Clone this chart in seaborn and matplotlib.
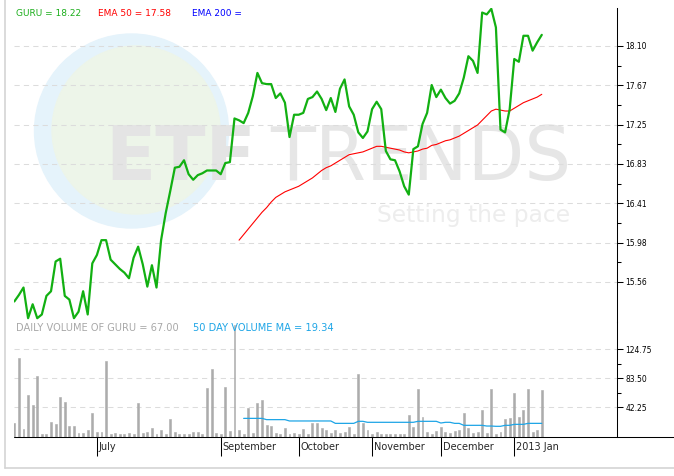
import numpy as np
import pandas as pd
import matplotlib
matplotlib.use('Agg')
import matplotlib.pyplot as plt
import matplotlib.transforms as mtransforms
from matplotlib.patches import Ellipse
from matplotlib.lines import Line2D
from matplotlib.ticker import FixedLocator
import seaborn as sns

# daily closes of GURU, one per trading session shown
guru_close = [15.35, 15.42, 15.50, 15.17, 15.32, 15.17, 15.21, 15.41, 15.46, 15.78,
              15.81, 15.41, 15.37, 15.17, 15.24, 15.46, 15.21, 15.76, 15.85, 16.01,
              16.01, 15.80, 15.75, 15.70, 15.66, 15.60, 15.82, 15.94, 15.75, 15.51,
              15.74, 15.50, 16.01, 16.30, 16.54, 16.79, 16.80, 16.87, 16.72, 16.66,
              16.71, 16.73, 16.76, 16.76, 16.76, 16.72, 16.84, 16.85, 17.32, 17.30,
              17.27, 17.38, 17.56, 17.81, 17.70, 17.69, 17.69, 17.54, 17.59, 17.49,
              17.12, 17.36, 17.36, 17.38, 17.53, 17.55, 17.61, 17.53, 17.41, 17.54,
              17.39, 17.64, 17.74, 17.45, 17.36, 17.17, 17.11, 17.18, 17.42, 17.50,
              17.42, 16.97, 16.88, 16.87, 16.75, 16.59, 16.50, 16.99, 17.02, 17.26,
              17.38, 17.68, 17.55, 17.63, 17.54, 17.48, 17.51, 17.59, 17.76, 17.99,
              17.94, 17.81, 18.46, 18.44, 18.50, 18.30, 17.20, 17.17, 17.42, 17.96,
              17.93, 18.21, 18.21, 18.05, 18.14, 18.22]

volume = [20, 112, 12, 60, 45, 87, 4, 4, 21, 18,
          57, 50, 16, 16, 6, 6, 10, 34, 7, 7,
          108, 4, 6, 4, 4, 6, 4, 48, 6, 7,
          13, 4, 10, 4, 26, 7, 4, 4, 4, 7,
          7, 4, 70, 97, 6, 4, 71, 8.5, 160, 10,
          4, 41, 6, 48, 53, 17, 16, 6, 4, 13,
          4, 6, 4, 11, 4, 20, 20, 13, 10, 6,
          10, 6, 7, 14, 4, 90, 20, 10, 4, 7,
          4, 4, 4, 4, 4, 4, 31, 14, 68, 28,
          7, 4, 8.5, 14, 7, 6, 8.5, 10, 34, 13,
          6, 7, 38, 6, 68, 4, 7, 26, 27, 63,
          28, 38, 68, 7, 10, 67]

ema50_start = 49
ema50 = [16.01, 16.07, 16.13, 16.19, 16.25, 16.31, 16.36, 16.42, 16.47, 16.50,
         16.53, 16.55, 16.57, 16.59, 16.62, 16.65, 16.68, 16.72, 16.76, 16.79,
         16.81, 16.84, 16.87, 16.90, 16.93, 16.94, 16.95, 16.96, 16.98, 17.00,
         17.02, 17.02, 17.01, 17.00, 16.99, 16.98, 16.96, 16.95, 16.96, 16.97,
         16.99, 17.00, 17.03, 17.04, 17.06, 17.08, 17.09, 17.11, 17.13, 17.16,
         17.19, 17.22, 17.25, 17.30, 17.35, 17.40, 17.42, 17.41, 17.40, 17.40,
         17.43, 17.46, 17.49, 17.51, 17.53, 17.55, 17.58]

volma_start = 50
vol_ma = [26.5] * 5 + [24.7] * 5 + [22.8] * 10 + [19.4] * 5 + [22.3] * 2 + \
         [20.9] * 11 + [22.3] * 5 + [19.9] + [20.9] * 2 + [19.4] * 2 + \
         [16.6] * 5 + [15.6] * 2 + [15.2] * 2 + [16.6] * 2 + [18.0] * 3 + [19.4] * 4

price_ticks = [15.56, 15.983, 16.407, 16.83, 17.253, 17.677, 18.10]
price_labels = ['15.56', '15.98', '16.41', '16.83', '17.25', '17.67', '18.10']
vol_ticks = [42.25, 83.50, 124.75]
vol_labels = ['42.25', '83.50', '124.75']
month_pos = [18, 45, 62, 78, 93, 109]
month_labels = ['July', 'September', 'October', 'November', 'December', '2013 Jan']

sns.set_style('white')
plt.rcParams['font.family'] = ['DejaVu Sans']

W, H = 674, 476
fig = plt.figure(figsize=(W / 100, H / 100), dpi=100)


def px_rect(x0, y0, x1, y1):
    return [x0 / W, 1 - y1 / H, (x1 - x0) / W, (y1 - y0) / H]


def fx(x):
    return x / W


def fy(y):
    return 1 - y / H


# watermark
fig.add_artist(Ellipse((fx(131.5), fy(131)), 194 / W, 194 / H, color='#e5f3fb', zorder=-6))
fig.add_artist(Ellipse((fx(136), fy(130)), 168 / W, 168 / H, color='#edf5e9', zorder=-5))
fig.text(fx(105.5), fy(180), 'ETF', fontsize=53, fontweight='bold', color='#e4e4e4',
         va='baseline', zorder=-4)
fig.text(fx(270), fy(180), 'TRENDS', fontsize=53, color='#e6e6e6',
         va='baseline', zorder=-4)
fig.text(fx(377), fy(222), 'Setting the pace', fontsize=16.8, color='#ededed',
         va='baseline', zorder=-4)

ax = fig.add_axes(px_rect(14, 8, 617, 322))
axv = fig.add_axes(px_rect(14, 322, 617, 437))

idx = np.arange(len(guru_close))
df = pd.DataFrame({'i': idx, 'close': guru_close, 'volume': volume})
ema_df = pd.DataFrame({'i': np.arange(ema50_start, ema50_start + len(ema50)), 'ema': ema50})
vma_df = pd.DataFrame({'i': np.arange(volma_start, volma_start + len(vol_ma)), 'vma': vol_ma})

sns.lineplot(data=ema_df, x='i', y='ema', ax=ax, color='#ff0000', linewidth=0.8, estimator=None)
sns.lineplot(data=df, x='i', y='close', ax=ax, color='#12b012', linewidth=1.6, estimator=None)

sns.barplot(data=df, x='i', y='volume', ax=axv, native_scale=True, color='#acacac',
            saturation=1, width=0.42, errorbar=None, linewidth=0.4, edgecolor='#acacac')
sns.lineplot(data=vma_df, x='i', y='vma', ax=axv, color='#1ea5e6', linewidth=0.9, estimator=None)

xlim = (-0.07, 131.4)
for a in (ax, axv):
    a.set_facecolor('none')
    a.set_xlim(*xlim)
    a.set_xlabel('')
    a.set_ylabel('')
    for s in ('top', 'left', 'bottom'):
        a.spines[s].set_visible(False)
    a.spines['right'].set_color('black')
    a.spines['right'].set_linewidth(0.75)
    a.yaxis.tick_right()
    a.tick_params(axis='y', which='both', direction='out', width=0.75, labelsize=5.5,
                  pad=1.5, colors='black')
    a.tick_params(axis='y', which='major', length=4.5)
    a.tick_params(axis='y', which='minor', length=3)
    a.grid(axis='y', which='major', color='#dcdcdc', linestyle=(0, (5, 4)), linewidth=0.75)
    a.grid(axis='x', visible=False)

ax.set_ylim(15.129, 18.509)
ax.set_yticks(price_ticks, price_labels)
ax.yaxis.set_minor_locator(FixedLocator([(a + b) / 2 for a, b in zip(price_ticks[:-1], price_ticks[1:])]))
ax.set_xticks([])

axv.set_ylim(0, 163.6)
axv.set_yticks(vol_ticks, vol_labels)
axv.yaxis.set_minor_locator(FixedLocator([(a + b) / 2 for a, b in zip(vol_ticks[:-1], vol_ticks[1:])]))
axv.set_xticks(month_pos, [''] * len(month_pos))
axv.tick_params(axis='x', direction='out', length=14, width=0.75, colors='black', bottom=True)
trans = mtransforms.blended_transform_factory(axv.transData, axv.transAxes)
for p, lab in zip(month_pos, month_labels):
    axv.text(p + 0.45, -0.087, lab, transform=trans, fontsize=7, va='center', ha='left')

# legends
fig.text(fx(16), fy(14), 'GURU = 18.22', color='#1cae1c', fontsize=6.5, va='center')
fig.text(fx(97.7), fy(14), 'EMA 50 = 17.58', color='#ff0000', fontsize=6.5, va='center')
fig.text(fx(191.7), fy(14), 'EMA 200 =', color='#0000ff', fontsize=6.5, va='center')
fig.text(fx(16), fy(328), 'DAILY VOLUME OF GURU = 67.00', color='#a8a8a8', fontsize=7.1, va='center')
fig.text(fx(192.7), fy(328), '50 DAY VOLUME MA = 19.34', color='#1ea5e6', fontsize=7.1, va='center')

# frame lines
fig.add_artist(Line2D([fx(14), 1], [fy(437), fy(437)], color='black', linewidth=0.75))
fig.add_artist(Line2D([fx(5), fx(5)], [1, fy(468)], color='#d4d4d4', linewidth=1.2))
fig.add_artist(Line2D([fx(5), 1], [fy(468), fy(468)], color='#d4d4d4', linewidth=1.2))

fig.savefig('out.png', dpi=100, facecolor='white')
